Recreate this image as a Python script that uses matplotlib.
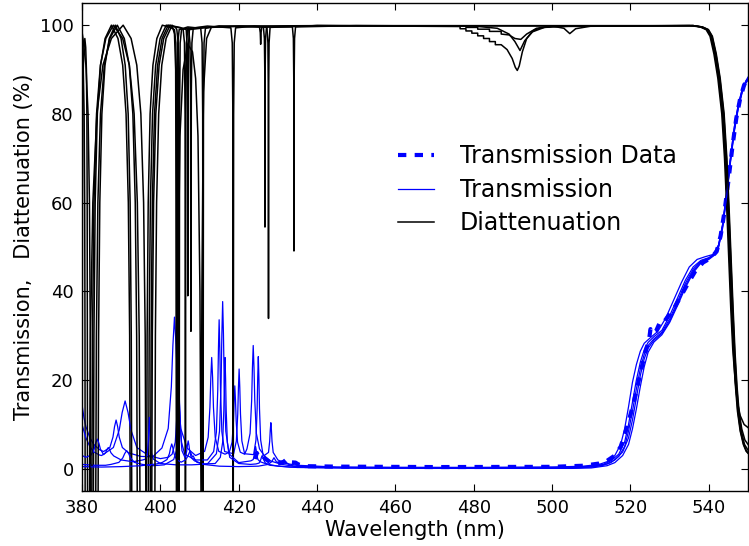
import matplotlib
matplotlib.use("Agg")
import matplotlib.pyplot as plt

# ---- measured data (wavelength nm, percent) ----
trans_data = [
    (424.2, 2.2), (424.6, 3.6), (425.2, 2.6), (426.0, 3.0), (426.6, 2.4), (428, 1.5),
    (430, 1.2), (431.5, 1.6), (432.3, 2.2), (433, 1.5), (434.5, 1.4), (435.2, 1.0),
    (437, 0.6), (445, 0.5), (470, 0.4), (500, 0.45), (508, 0.7), (512, 1.2), (514, 1.8),
    (516, 3), (517.5, 5), (518.6, 8), (519.6, 11), (520.7, 14.5), (522, 19.5),
    (523.3, 24.5), (524.1, 27.3), (524.7, 28.8), (525.1, 31.5), (525.6, 30.5),
    (526.5, 31), (527.5, 33), (528.3, 32.8), (529.5, 34.3), (531, 36), (532.6, 38.5),
    (534.5, 41.5), (536.5, 44.5), (538.5, 46.5), (540.5, 47.5), (542, 49), (543, 52.5),
    (544, 58), (545, 65), (546, 72.5), (547, 79), (548, 83.5), (549, 86.5), (550, 88),
]

# simulated transmission, five layer-thickness variants
trans_1 = [
    (380, 14.5), (380.5, 11.5), (381, 9.5), (382, 7), (383, 5.5), (384.5, 4.3),
    (385.5, 3.9), (387.1, 4.8), (387.9, 7.15), (388.3, 9.5), (388.7, 11), (389.1, 9.5),
    (389.5, 7.15), (390.3, 4.8), (391.9, 3.6), (395, 2.8), (398, 2.7), (400.4, 4.7),
    (402.0, 9.1), (402.8, 18.5), (403.2, 27.9), (403.6, 34.2), (404.0, 27.9),
    (404.4, 18.5), (405.2, 9.1), (406.8, 4.7), (409, 3.0), (411.3, 3.95), (412.2, 7.1),
    (412.65, 13.85), (412.88, 20.6), (413.1, 25.1), (413.33, 20.6), (413.55, 13.85),
    (414.0, 7.1), (414.9, 3.95), (416.5, 3.3), (417.6, 3.75), (418.3, 6), (418.65, 10.75),
    (418.83, 15.5), (419.0, 18.7), (419.17, 15.5), (419.35, 10.75), (419.7, 6),
    (420.4, 3.75), (421.5, 3.3), (422.1, 4.5), (422.9, 8), (423.3, 15.4), (423.5, 22.8),
    (423.7, 27.8), (423.9, 22.8), (424.1, 15.4), (424.5, 8), (425.3, 4.5), (426.5, 3.0),
    (427.6, 3.7), (427.9, 6.2), (428.05, 8.7), (428.2, 10.4), (428.35, 8.7), (428.5, 6.2),
    (428.8, 3.7), (430, 2.0), (432, 1.2), (435, 0.8), (445, 0.4), (460, 0.3), (480, 0.3),
    (500, 0.4), (508, 0.6), (512, 1), (514, 1.6), (516, 3), (517.5, 5.5), (518.5, 9),
    (519.5, 14), (520.5, 19.5), (521.5, 23.5), (522.5, 26.5), (523.5, 28.3), (525, 29.5),
    (527, 31), (529, 34), (531, 38), (533, 42), (535, 45.5), (537, 47.2), (539, 47.8),
    (541, 48.3), (542.5, 50.5), (543.5, 55), (544.5, 62), (545.5, 70), (546.5, 77),
    (547.5, 82), (548.5, 85.5), (549.5, 87.5), (550, 88),
]
trans_2 = [
    (380, 10), (381, 7), (382, 5), (383, 3.8), (384.5, 3.1), (385.0, 3.0), (388.0, 4.8),
    (389.5, 8.75), (390.25, 12.7), (391.0, 15.3), (391.75, 12.7), (392.5, 8.75),
    (394.0, 4.8), (397.0, 3.0), (400, 2.3), (402, 2.6), (403.0, 3.3), (403.8, 6),
    (404.2, 11.6), (404.4, 17.2), (404.6, 21), (404.8, 17.2), (405.0, 11.6), (405.4, 6),
    (406.2, 3.3), (409, 2.0), (412, 2.0), (413.6, 3.9), (414.3, 8.3), (414.65, 17.8),
    (414.83, 27.3), (415.0, 33.6), (415.17, 27.3), (415.35, 17.8), (415.7, 8.3),
    (416.4, 3.9), (418.7, 3.4), (419.4, 6.3), (419.75, 12.35), (419.93, 18.4),
    (420.1, 22.5), (420.27, 18.4), (420.45, 12.35), (420.8, 6.3), (421.5, 3.4),
    (423.8, 3.2), (424.4, 6.5), (424.7, 13.55), (424.85, 20.6), (425.0, 25.3),
    (425.15, 20.6), (425.3, 13.55), (425.6, 6.5), (426.2, 3.2), (428, 1.8), (431, 1.0),
    (434, 0.6), (445, 0.35), (480, 0.3), (505, 0.35), (510, 0.6), (513, 1), (515, 1.8),
    (517, 3.3), (518.5, 6), (519.5, 10), (520.5, 15), (521.5, 20), (522.5, 24),
    (523.5, 26.8), (524.5, 28.5), (526, 29.8), (528, 31.2), (530, 34.5), (532, 38.5),
    (534, 42.5), (536, 45.5), (538, 47), (540, 47.6), (541.5, 48.5), (542.5, 50.5),
    (543.5, 55), (544.5, 62), (545.5, 70), (546.5, 77), (547.5, 82), (548.5, 85.5),
    (549.5, 87.5), (550, 88.3),
]
trans_3 = [
    (380, 3), (381, 2.6), (382.3, 3.1), (383.1, 4.45), (383.5, 5.8), (383.9, 6.7),
    (384.3, 5.8), (384.7, 4.45), (385.5, 3.2), (386.0, 3.6), (386.35, 4.3), (386.7, 4.8),
    (387.05, 4.3), (387.4, 3.6), (388.1, 2.9), (390, 2.0), (393, 1.6), (395.5, 2.0),
    (396.2, 2.2), (396.7, 3.6), (396.95, 6.6), (397.08, 9.6), (397.2, 11.6),
    (397.33, 9.6), (397.45, 6.6), (397.7, 3.6), (398.2, 2.2), (400, 1.2), (404, 0.9),
    (408, 0.9), (412, 1.1), (414.3, 3.4), (415.1, 8.5), (415.5, 19.45), (415.7, 30.4),
    (415.9, 37.7), (416.1, 30.4), (416.3, 19.45), (416.7, 8.5), (417.5, 3.4),
    (420, 1.4), (423.1, 1.8), (423.7, 2.1), (424.0, 3.2), (424.15, 4.3), (424.3, 5),
    (424.45, 4.3), (424.6, 3.2), (424.9, 2.1), (425.5, 1.6), (428, 0.8), (433, 0.4),
    (450, 0.2), (480, 0.2), (505, 0.25), (510, 0.4), (513, 0.8), (515, 1.4), (517, 2.8),
    (518.5, 5), (519.5, 8.5), (520.5, 13), (521.5, 18), (522.5, 22.5), (523.5, 25.8),
    (524.5, 27.8), (526, 29.3), (528, 30.8), (530, 33.8), (532, 37.7), (534, 41.8),
    (536, 45), (538, 46.8), (540, 47.5), (541.5, 48.4), (542.5, 50.3), (543.5, 54.7),
    (544.5, 61.5), (545.5, 69.5), (546.5, 76.5), (547.5, 81.5), (548.5, 85.2),
    (549.5, 87.3), (550, 88),
]
trans_4 = [
    (380, 1), (383, 0.8), (386, 0.8), (387.4, 1.0), (389.4, 1.45), (390.4, 2.45),
    (390.9, 3.45), (391.4, 4.1), (391.9, 3.45), (392.4, 2.45), (393.4, 1.45),
    (395.4, 1.0), (398, 0.7), (401, 0.9), (403.4, 2.1), (404.1, 4.1), (404.45, 8.45),
    (404.63, 12.8), (404.8, 15.7), (404.97, 12.8), (405.15, 8.45), (405.5, 4.1),
    (406.3, 2.5), (406.7, 3.9), (406.9, 5.3), (407.1, 6.3), (407.3, 5.3), (407.5, 3.9),
    (407.9, 2.5), (408.7, 1.8), (411, 1.1), (414, 1.2), (415.3, 2.6), (415.9, 6),
    (416.2, 13.15), (416.35, 20.3), (416.5, 25.1), (416.65, 20.3), (416.8, 13.15),
    (417.1, 6), (417.7, 2.6), (420, 1.2), (423, 1.0), (424.4, 1.1), (425.2, 1.3),
    (425.6, 2.0), (425.8, 2.6), (426, 3), (426.2, 2.6), (426.4, 2.0), (426.8, 1.3),
    (427.6, 1.0), (430, 0.6), (435, 0.3), (460, 0.15), (500, 0.15), (507, 0.25),
    (511, 0.5), (514, 1.1), (516, 2), (518, 3.8), (519.5, 7), (520.5, 11), (521.5, 16),
    (522.5, 21), (523.5, 24.8), (524.5, 27.2), (526, 29), (528, 30.5), (530, 33.3),
    (532, 37.2), (534, 41.2), (536, 44.6), (538, 46.6), (540, 47.4), (541.5, 48.3),
    (542.5, 50.2), (543.5, 54.5), (544.5, 61.2), (545.5, 69.2), (546.5, 76.3),
    (547.5, 81.4), (548.5, 85), (549.5, 87.2), (550, 87.8),
]
trans_5 = [
    (380, 0.5), (385, 0.4), (390, 0.5), (395, 0.7), (399, 1.1), (400.5, 1.45),
    (401.7, 2.1), (402.3, 3.4), (402.6, 4.7), (402.9, 5.6), (403.2, 4.7), (403.5, 3.4),
    (404.1, 2.1), (405.3, 1.5), (406.4, 2.0), (407.0, 2.8), (407.3, 3.5), (407.6, 4),
    (407.9, 3.3), (408.15, 2.7), (408.4, 2.9), (408.7, 2.3), (409.3, 1.5), (411, 1.0),
    (415, 0.6), (420, 0.5), (425, 0.6), (427.5, 1.0), (428.4, 1.6), (428.8, 2.2),
    (429, 2.5), (429.2, 2.2), (429.6, 1.6), (430.6, 1.1), (431.4, 1.2), (431.8, 1.4),
    (432, 1.5), (432.2, 1.4), (432.8, 1.0), (434, 0.6), (437, 0.3), (470, 0.1),
    (505, 0.1), (510, 0.2), (514, 0.7), (516, 1.4), (518, 3), (519.5, 5.5), (520.5, 9),
    (521.5, 13.5), (522.5, 18.5), (523.5, 23), (524.5, 26.3), (526, 28.6), (528, 30.2),
    (530, 33), (532, 36.8), (534, 40.8), (536, 44.2), (538, 46.4), (540, 47.2),
    (541.5, 48.2), (542.5, 50), (543.5, 54.2), (544.5, 61), (545.5, 69), (546.5, 76),
    (547.5, 81.2), (548.5, 84.8), (549.5, 87), (550, 87.6),
]

# simulated diattenuation, same five variants
diatt_1 = [
    (380, 97), (380.3, 91), (380.54, 80), (380.68, 60), (380.76, 30), (380.8, -8),
    (381.8, -20), (382.9, -8), (383.04, 30), (383.36, 60), (383.91, 80), (384.74, 91),
    (385.89, 97), (387.5, 100), (389.18, 97), (390.38, 91), (391.24, 80),
    (391.82, 60), (392.16, 30), (392.3, -8), (394.4, -20), (396.5, -8), (396.62, 30),
    (396.9, 60), (397.38, 80), (398.1, 91), (399.1, 97), (400.5, 100), (402.5, 99.5),
    (403.6, 99), (403.95, 96), (404.1, 80), (404.2, -15), (404.3, 80), (404.45, 96),
    (404.8, 99), (407, 99.6), (410.3, 99.3), (410.65, 96), (410.8, 80), (410.9, -15),
    (411, 80), (411.15, 96), (411.5, 99.3), (415, 99.8), (426.3, 99.6), (426.55, 97),
    (426.65, 90), (426.7, 54.5), (426.75, 90), (426.85, 97), (427.1, 99.6), (440, 99.9),
    (535, 99.9), (538, 99.6), (539.5, 99), (540.5, 97.5), (541.5, 93.5), (542.5, 88),
    (543.5, 80), (544.2, 70), (544.8, 58), (545.3, 47), (545.8, 36), (546.3, 26),
    (546.8, 18.5), (547.3, 13), (548, 8.5), (548.8, 5.5), (549.5, 4), (550, 3.5),
]
diatt_2 = [
    (380, -20), (380.05, -8), (380.07, 25), (380.12, 60), (380.2, 80), (380.32, 90),
    (380.5, 95), (380.72, 97), (380.94, 95), (381.12, 90), (381.24, 80), (381.32, 60),
    (381.37, 25), (381.4, -8), (382.7, -20), (384.1, -8), (384.23, 30), (384.54, 60),
    (385.07, 80), (385.86, 91), (386.96, 97), (388.5, 100), (389.97, 97),
    (391.02, 91), (391.78, 80), (392.28, 60), (392.57, 30), (392.7, -8), (394.8, -20),
    (397.0, -8), (397.14, 30), (397.45, 60), (398.0, 80), (398.8, 91), (399.93, 97),
    (401.5, 100), (404, 99.6), (405.8, 99.2), (406.15, 96), (406.3, 80), (406.4, -15),
    (406.5, 80), (406.65, 96), (407, 99.2), (412, 99.8), (418.0, 99.4), (418.35, 96),
    (418.5, 80), (418.6, -15), (418.7, 80), (418.85, 96), (419.2, 99.4), (424, 99.8),
    (427.2, 99.5), (427.45, 96), (427.55, 85), (427.6, 33.9), (427.65, 85), (427.75, 96),
    (428, 99.5), (440, 99.9), (500, 99.8), (503, 99.3), (504.5, 98.1), (506, 99.2),
    (510, 99.8), (536, 99.9), (538.3, 99.6), (539.8, 99), (540.8, 97.5), (541.8, 93.5),
    (542.8, 88), (543.8, 80), (544.5, 70), (545.1, 58), (545.6, 47), (546.1, 36),
    (546.6, 26), (547.1, 18.5), (547.6, 13), (548.3, 8.5), (549.1, 5.5), (550, 4.2),
]
diatt_3 = [
    (380, 98.5), (380.25, 97), (381.0, 91), (381.54, 80), (381.9, 60), (382.11, 30),
    (382.2, -8), (382.85, -20), (383.5, -8), (383.67, 30), (384.05, 60), (384.71, 80),
    (385.7, 91), (387.08, 97), (389.0, 100), (390.79, 97), (392.06, 91),
    (392.98, 80), (393.59, 60), (393.95, 30), (394.1, -8), (395.8, -20), (397.5, -8),
    (397.64, 30), (397.95, 60), (398.5, 80), (399.3, 91), (400.43, 97), (402, 100),
    (405, 99.5), (406.6, 99), (406.85, 95), (406.95, 80), (407.0, 39), (407.05, 80),
    (407.15, 95), (407.4, 99), (415, 99.8), (425.3, 99.6), (425.5, 98.3), (425.6, 95.7),
    (425.7, 98.3), (425.9, 99.6), (440, 99.9), (476.5, 99.7), (476.5, 99.2), (478, 99.2),
    (478, 98.7), (479.5, 98.7), (479.5, 98.2), (481, 98.2), (481, 97.6), (482.5, 97.6),
    (482.5, 97.0), (484, 97.0), (484, 96.3), (485.5, 96.3), (485.5, 95.6), (487, 95.6),
    (488.5, 94.5), (489.8, 92.5), (490.6, 90.5), (491.1, 89.8), (491.6, 90.8),
    (492.4, 94), (493.5, 97), (495, 98.7), (497, 99.4), (500, 99.7), (536, 99.9),
    (538.1, 99.6), (539.6, 99), (540.6, 97.5), (541.6, 93.5), (542.6, 88), (543.6, 80),
    (544.3, 70), (544.9, 58), (545.4, 47), (545.9, 36), (546.4, 26), (546.9, 18.5),
    (547.4, 13), (548.1, 8.5), (548.9, 5.5), (549.6, 4), (550, 3.6),
]
diatt_4 = [
    (380, -20), (382.5, -8), (382.67, 30), (383.05, 60), (383.71, 80), (384.7, 91),
    (386.08, 97), (388, 100), (390.38, 97), (392.08, 91), (393.3, 80), (394.12, 60),
    (394.6, 30), (394.8, -8), (396.3, -20), (397.8, -8), (397.94, 30), (398.27, 60),
    (398.83, 80), (399.68, 91), (400.85, 97), (402.5, 100), (403.8, 99.6), (404.2, 99),
    (404.55, 96), (404.7, 80), (404.8, -15), (404.9, 80), (405.05, 96), (405.4, 99),
    (407.2, 99.4), (407.55, 96), (407.7, 85), (407.8, 31), (407.9, 85), (408.05, 96),
    (408.4, 99.4), (420, 99.8), (433.7, 99.6), (433.95, 97), (434.05, 88), (434.1, 49.1),
    (434.15, 88), (434.25, 97), (434.5, 99.6), (450, 99.9), (480, 99.8), (486, 99.3),
    (489, 98), (490.5, 96.3), (491.8, 94.3), (493, 96.5), (495, 98.5), (498, 99.5),
    (505, 99.8), (536, 99.9), (537.8, 99.6), (539.3, 99), (540.3, 97.5), (541.3, 93.5),
    (542.3, 88), (543.3, 80), (544, 70), (544.6, 58), (545.1, 47), (545.6, 36),
    (546.1, 27), (546.7, 20), (547.3, 15), (548, 12), (549, 10), (550, 9.3),
]
diatt_5 = [
    (380, -20), (381.9, -8), (382.16, 30), (382.76, 60), (383.79, 80), (385.34, 91),
    (387.49, 97), (390.5, 100), (392.53, 97), (393.98, 91), (395.02, 80),
    (395.72, 60), (396.13, 30), (396.3, -8), (397.4, -20), (398.6, -8), (398.73, 30),
    (399.04, 60), (399.57, 80), (400.36, 91), (401.46, 97), (403, 100), (403.6, 98),
    (403.9, 90), (404.0, 60), (404.1, -12), (404.3, -8), (404.5, 40), (405, 75),
    (405.8, 90), (407, 95.7), (408.2, 94), (409, 88), (409.6, 75), (410.1, 40),
    (410.4, -10), (410.6, 40), (411, 85), (411.8, 97), (413, 99.5), (420, 99.8),
    (440, 99.9), (478, 99.8), (478, 99.5), (481, 99.5), (481, 99.1), (484, 99.1),
    (484, 98.6), (487, 98.6), (487, 98.0), (489, 97.8), (490.5, 97), (492, 96.8),
    (493.5, 98), (496, 99.3), (500, 99.8), (536, 99.9), (538.4, 99.6), (539.9, 99),
    (540.9, 97.5), (541.9, 93.5), (542.9, 88), (543.9, 80), (544.6, 70), (545.2, 58),
    (545.7, 47), (546.2, 36), (546.7, 26), (547.2, 18.5), (547.7, 13), (548.4, 9),
    (549.2, 6.5), (550, 5.5),
]

trans_sims = [trans_1, trans_2, trans_3, trans_4, trans_5]
diatt_sims = [diatt_1, diatt_2, diatt_3, diatt_4, diatt_5]

x_ticks = [380, 400, 420, 440, 460, 480, 500, 520, 540]
y_ticks = [0, 20, 40, 60, 80, 100]

plt.rcParams.update({
    "font.family": "DejaVu Sans",
    "xtick.direction": "in",
    "ytick.direction": "in",
    "xtick.top": True,
    "ytick.right": True,
    "xtick.major.size": 5,
    "ytick.major.size": 5,
    "xtick.major.pad": 6,
    "ytick.major.pad": 6,
    "axes.linewidth": 1.0,
})

fig = plt.figure(figsize=(7.49, 5.46), dpi=100)
ax = fig.add_axes([0.1095, 0.1007, 0.8892, 0.8938])

wl, val = zip(*trans_data)
ax.plot(wl, val, color="b", lw=3, dashes=(2, 2), label="Transmission Data")

for i, (t, d) in enumerate(zip(trans_sims, diatt_sims)):
    wl, val = zip(*t)
    ax.plot(wl, val, color="b", lw=0.9, label="Transmission" if i == 0 else None)
    wl, val = zip(*d)
    ax.plot(wl, val, color="k", lw=1.1, label="Diattenuation" if i == 0 else None)

ax.set_xlim(380, 550)
ax.set_ylim(-5, 105)
ax.set_xticks(x_ticks)
ax.set_yticks(y_ticks)
ax.tick_params(labelsize=13)
ax.set_xlabel("Wavelength (nm)", fontsize=15, labelpad=2)
ax.set_ylabel("Transmission,   Diattenuation (%)", fontsize=15, labelpad=4)

ax.legend(loc="center left", bbox_to_anchor=(0.461, 0.617), frameon=False,
          fontsize=17, handlelength=1.5, handletextpad=1.1, labelspacing=0.4,
          borderaxespad=0)

fig.savefig("out.png", dpi=100)
